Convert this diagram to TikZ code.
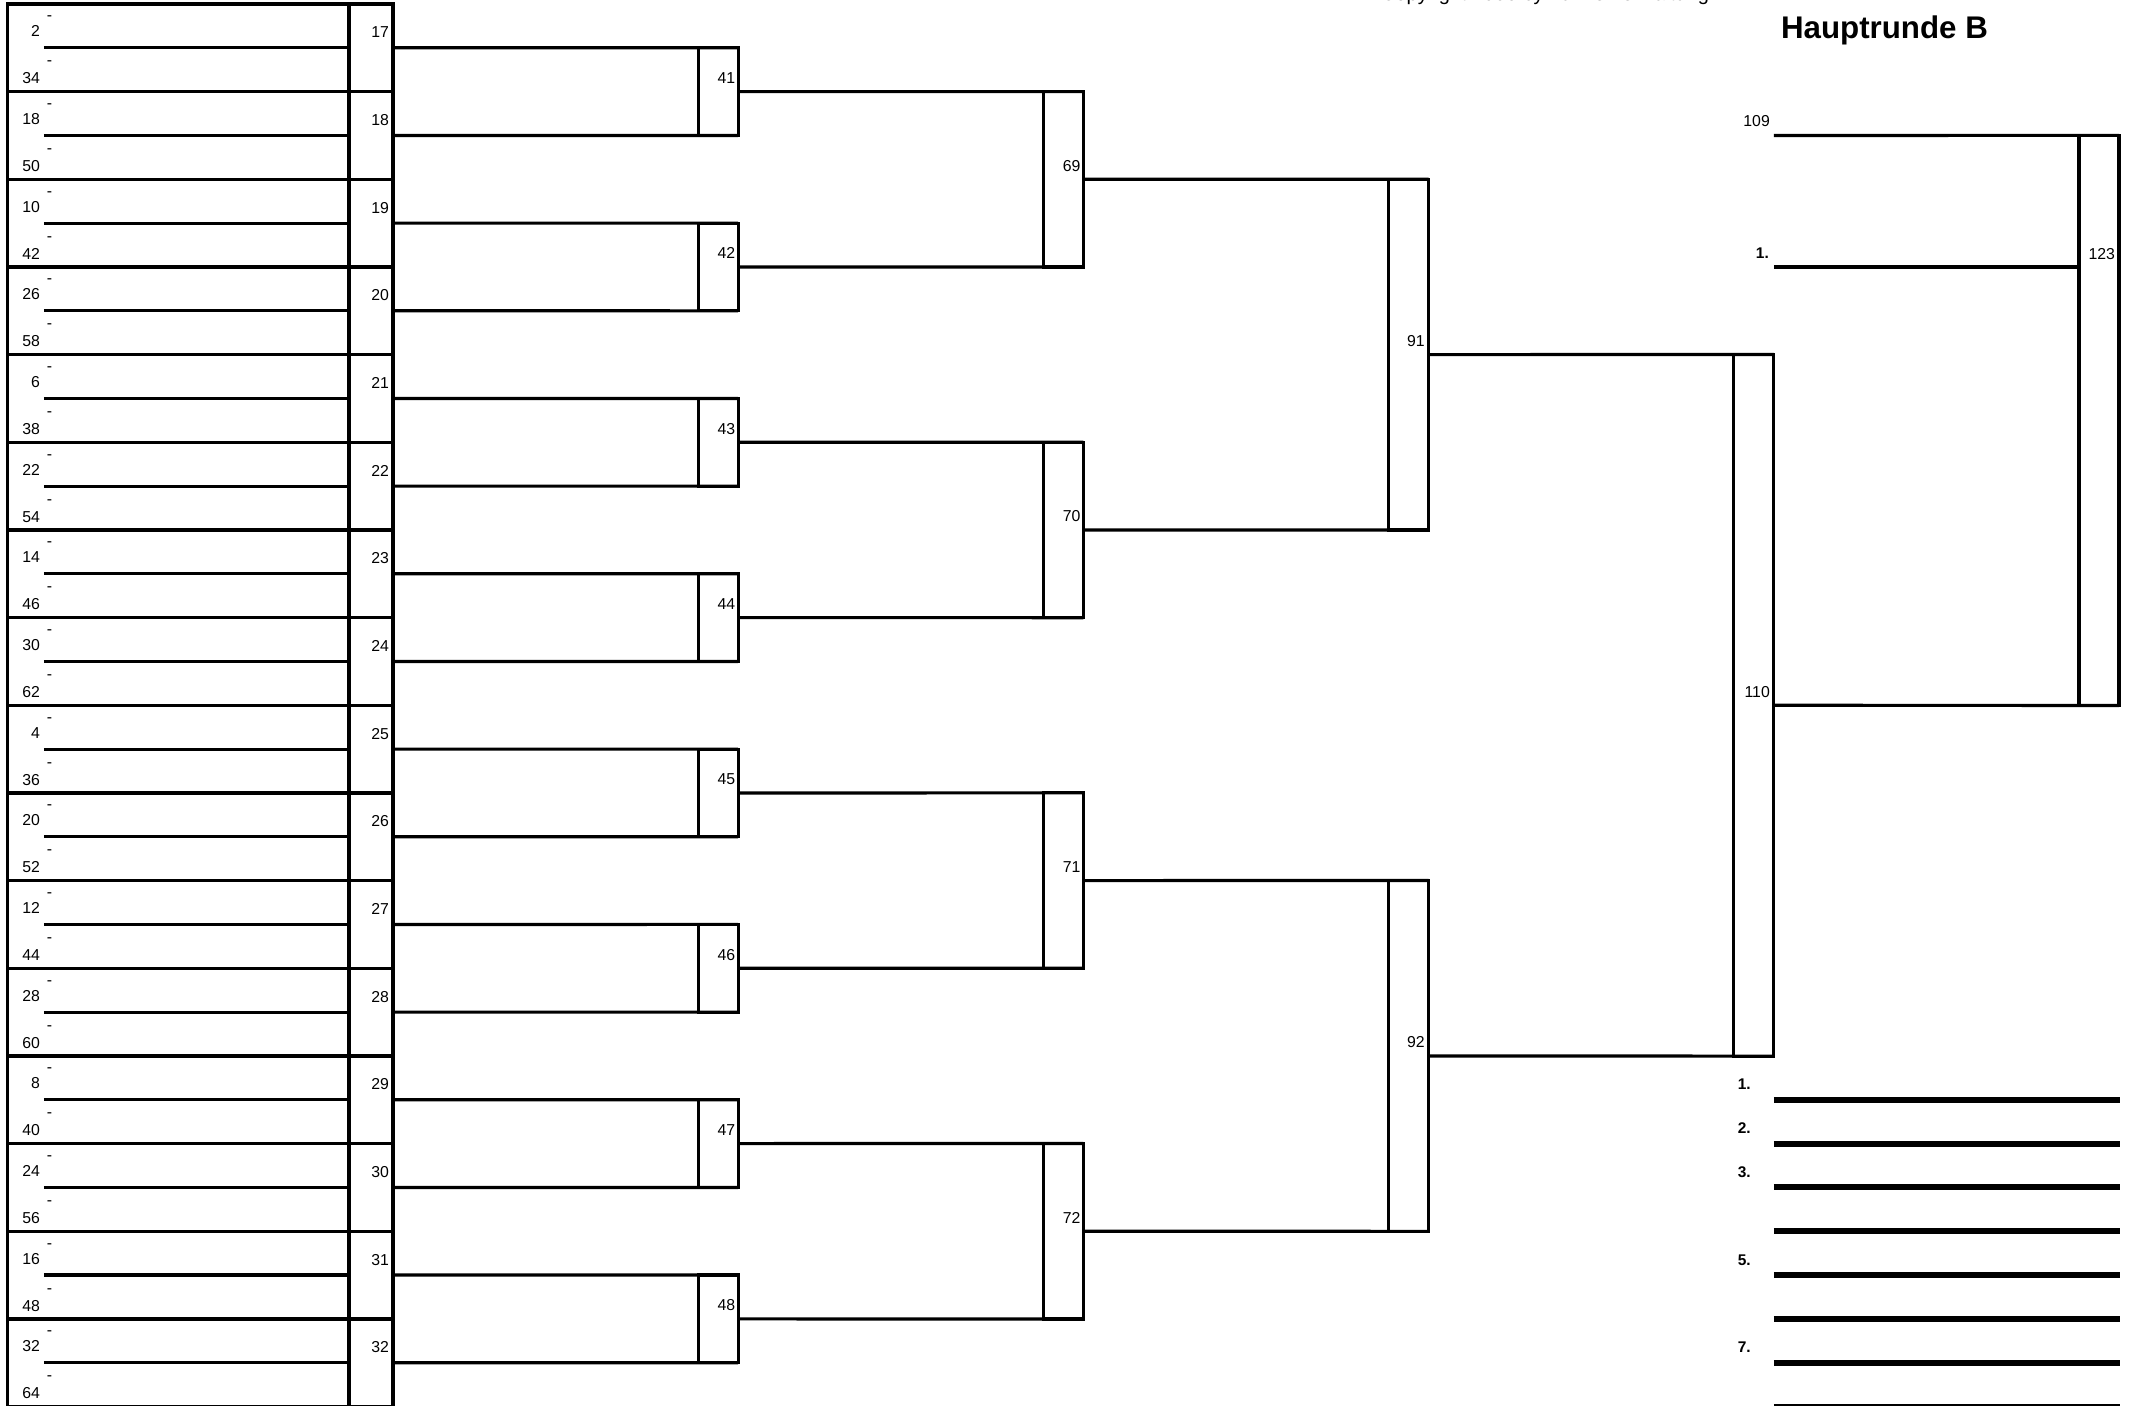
\documentclass[tikz,border=0pt]{standalone}
\usepackage{fontspec}
\setmainfont{Liberation Sans}
\def\rowh{87.66}

\begin{document}
\begin{tikzpicture}[x=0.01cm, y=-0.01cm, line width=0.9pt,
  every node/.style={inner sep=0pt, outer sep=0pt},
  matchbox/.style={draw, minimum width=0.40cm},
  num/.style={font=\fontsize{4.5}{5}\selectfont, anchor=base east},
  place/.style={font=\bfseries\fontsize{4.4}{5}\selectfont, anchor=base east},
  thickline/.style={line width=1.7pt}]
  \useasboundingbox (0,0) rectangle (2138,1406);

  % header
  \node[font=\fontsize{5.7}{6}\selectfont, anchor=base west] (copy) at (1381,1) {Copyright 2006 by Turnierverwaltung};
  \node[font=\bfseries\fontsize{8.9}{10}\selectfont, anchor=base west] (title) at (1781,38) {Hauptrunde B};

  % seeds and first round
  \foreach \a [count=\i from 0] in {2,18,10,26,6,22,14,30,4,20,12,28,8,24,16,32} {
    \pgfmathtruncatemacro\m{17+\i}
    \pgfmathtruncatemacro\b{\a+32}
    \pgfmathsetmacro\yc{4+(\i+0.5)*\rowh}
    \node[draw, minimum width=3.41cm, minimum height=0.8766cm] (s\m) at (178.5,\yc) {};
    \node[draw, minimum width=0.44cm, minimum height=0.8766cm] (m\m) at (371,\yc) {};
    \draw ([xshift=0.36cm]s\m.west) -- (s\m.east);
    \node[num] (t\m) at (40,\yc-11) {\a};
    \node[num] (u\m) at (40,\yc+36) {\b};
    \node[num, anchor=base west] (p\m) at (47,\yc-27) {-};
    \node[num, anchor=base west] (q\m) at (47,\yc+18) {-};
    \node[num] (n\m) at ([xshift=-0.04cm, yshift=0.10cm]m\m.east) {\m};
  }

  % second round
  \foreach \j in {0,...,7} {
    \pgfmathtruncatemacro\m{41+\j}
    \pgfmathtruncatemacro\a{17+2*\j}
    \pgfmathtruncatemacro\b{18+2*\j}
    \node[matchbox, minimum height=0.8766cm] (m\m) at (718.2,{4+(2*\j+1)*\rowh}) {};
    \node[num] (n\m) at ([xshift=-0.03cm, yshift=0.08cm]m\m.east) {\m};
    \draw (m\a.east) -- (m\m.north east);
    \draw (m\b.east) -- (m\m.south east);
  }

  % third round
  \foreach \k in {0,...,3} {
    \pgfmathtruncatemacro\m{69+\k}
    \pgfmathtruncatemacro\a{41+2*\k}
    \pgfmathtruncatemacro\b{42+2*\k}
    \node[matchbox, minimum height=1.7532cm] (m\m) at (1063.4,{4+(4*\k+2)*\rowh}) {};
    \node[num] (n\m) at ([xshift=-0.03cm, yshift=0.08cm]m\m.east) {\m};
    \draw (m\a.east) -- (m\m.north east);
    \draw (m\b.east) -- (m\m.south east);
  }

  % fourth round
  \foreach \k in {0,1} {
    \pgfmathtruncatemacro\m{91+\k}
    \pgfmathtruncatemacro\a{69+2*\k}
    \pgfmathtruncatemacro\b{70+2*\k}
    \node[matchbox, minimum height=3.5064cm] (m\m) at (1408.6,{4+(8*\k+4)*\rowh}) {};
    \node[num] (n\m) at ([xshift=-0.04cm, yshift=0.08cm]m\m.east) {\m};
    \draw (m\a.east) -- (m\m.north east);
    \draw (m\b.east) -- (m\m.south east);
  }

  % semifinal and final
  \node[matchbox, minimum height=7.0128cm] (m110) at (1753.8,{4+8*\rowh}) {};
  \node[num] (n110) at ([xshift=-0.04cm, yshift=0.08cm]m110.east) {110};
  \draw (m91.east) -- (m110.north east);
  \draw (m92.east) -- (m110.south east);

  \node[matchbox, minimum height=5.698cm] (m123) at (2099,420.4) {};
  \node[num] (n123) at (2115,259) {123};
  \coordinate (w109) at (1773.8,135.5);
  \coordinate (w1) at (1773.8,267);
  \draw (w109) -- (m123.north east);
  \draw (w1) -- (m123.west |- w1);
  \draw (m110.east) -- (m123.south east);
  \node[num] (n109) at ([xshift=-0.04cm, yshift=0.09cm]w109) {109};
  \node[place] (f1) at ([xshift=-0.05cm, yshift=0.08cm]w1) {1.};

  % ranking
  \foreach \t [count=\n from 0] in {1.,2.,3.,{},5.,{},7.,{}} {
    \coordinate (r\n) at (1773.8,{4+(12.5+0.5*\n)*\rowh});
    \coordinate (e\n) at (2120,{4+(12.5+0.5*\n)*\rowh});
    \draw[thickline] (r\n) -- (e\n);
    \node[place] (g\n) at ([xshift=-0.23cm, yshift=0.10cm]r\n) {\t};
  }
\end{tikzpicture}
\end{document}
